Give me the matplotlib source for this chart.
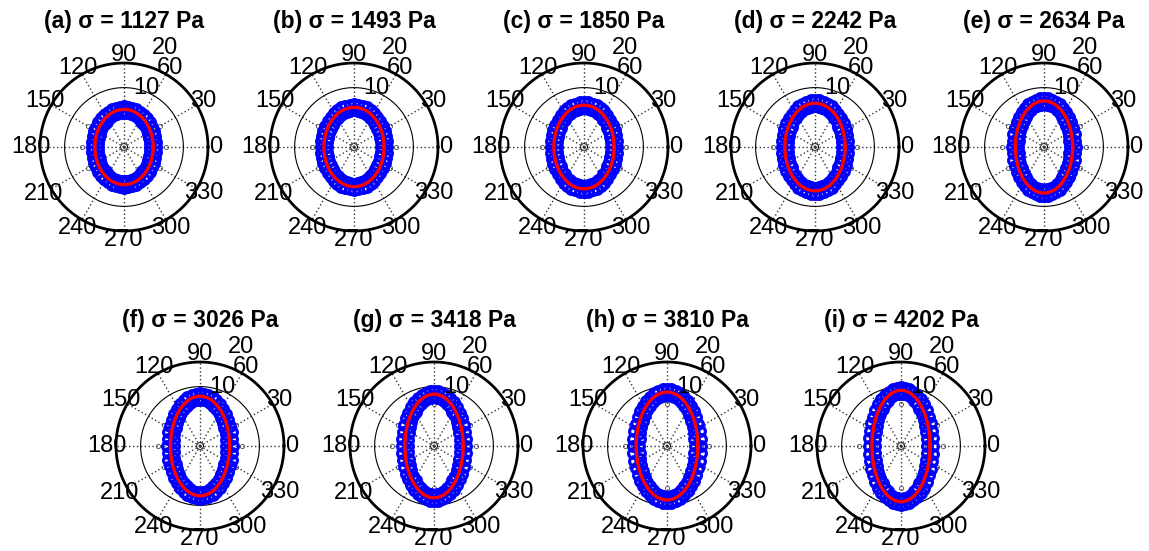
import matplotlib.pyplot as plt
import numpy as np

plt.rcParams['font.family'] = ['Liberation Sans', 'DejaVu Sans']

# panels: label and applied stress
panel_labels = ['(a)', '(b)', '(c)', '(d)', '(e)', '(f)', '(g)', '(h)', '(i)']
stress_pa = [1127, 1493, 1850, 2242, 2634, 3026, 3418, 3810, 4202]

# fitted ellipse semi-axes (radius as fraction of the outer ring)
fit_rx = [0.347, 0.358, 0.359, 0.359, 0.341, 0.352, 0.347, 0.367, 0.346]
fit_ry = [0.448, 0.472, 0.498, 0.522, 0.548, 0.593, 0.617, 0.642, 0.663]

# measured points: outer and inner scatter of the markers
out_rx = [0.385, 0.395, 0.395, 0.395, 0.378, 0.390, 0.385, 0.405, 0.383]
out_ry = [0.485, 0.510, 0.535, 0.560, 0.585, 0.630, 0.655, 0.680, 0.700]
in_rx = [0.310, 0.320, 0.323, 0.323, 0.305, 0.315, 0.310, 0.330, 0.310]
in_ry = [0.410, 0.435, 0.460, 0.485, 0.510, 0.555, 0.580, 0.605, 0.625]
meas_angles = np.arange(0, 360, 7.5)

# polar grid
theta_ticks = [0, 30, 60, 90, 120, 150, 180, 210, 240, 270, 300, 330]
ring_labels = ['10', '20']

W, H = 1149, 551
R = 84.0  # outer ring radius in pixels
centers = [(124, 147), (354, 147), (584, 147), (815, 147), (1044, 147),
           (200, 446), (434, 446), (667, 446), (901, 446)]

fig = plt.figure(figsize=(W / 100, H / 100), dpi=100)

lim = 1.3
for i, (cx, cy) in enumerate(centers):
    size = 2 * lim * R
    ax = fig.add_axes([(cx - size / 2) / W, 1 - (cy + size / 2) / H, size / W, size / H])
    ax.set_xlim(-lim, lim)
    ax.set_ylim(-lim, lim)
    ax.set_aspect('equal')
    ax.axis('off')

    # spokes
    for ang in theta_ticks:
        a = np.deg2rad(ang)
        ax.plot([0, np.cos(a)], [0, np.sin(a)], color='0.2', lw=1.0,
                ls=(0, (1, 1.8)), zorder=1)
        ax.plot(0.5 * np.cos(a), 0.5 * np.sin(a), 'o', ms=3, mfc='none',
                mec='0.3', mew=0.6, zorder=1)
    # rings
    t = np.linspace(0, 2 * np.pi, 361)
    ax.plot(0.707 * np.cos(t), 0.707 * np.sin(t), color='k', lw=0.8, zorder=1)
    ax.plot(np.cos(t), np.sin(t), color='k', lw=2.0, zorder=1)
    ax.plot(0.04 * np.cos(t), 0.04 * np.sin(t), color='k', lw=0.6, zorder=1)

    # measured points
    m = np.deg2rad(meas_angles)
    for rx, ry in [(out_rx[i], out_ry[i]), (in_rx[i], in_ry[i])]:
        ax.plot(rx * np.cos(m), ry * np.sin(m), 'o', ms=7, mfc='none',
                mec='#0000ff', mew=2.3, zorder=3)
    # fit
    ax.plot(fit_rx[i] * np.cos(t), fit_ry[i] * np.sin(t), color='#ff0000',
            lw=2.4, zorder=4)

    # angular labels
    for ang in theta_ticks:
        a = np.deg2rad(ang)
        rr = 1.11 if 180 <= ang <= 300 else 1.09
        ax.text(rr * np.cos(a), rr * np.sin(a), str(ang), fontsize=17,
                ha='center', va='center', zorder=5)
    # radial labels
    for rr, ang, lab in [(0.75, 69, ring_labels[0]), (1.27, 67.5, ring_labels[1])]:
        a = np.deg2rad(ang)
        ax.text(rr * np.cos(a), rr * np.sin(a), lab, fontsize=17,
                ha='center', va='center', zorder=5)

    ax.text(0, 1.49, f'{panel_labels[i]} σ = {stress_pa[i]} Pa', fontsize=16.5,
            fontweight='bold', ha='center', va='center')

fig.savefig('out.png', dpi=100)
